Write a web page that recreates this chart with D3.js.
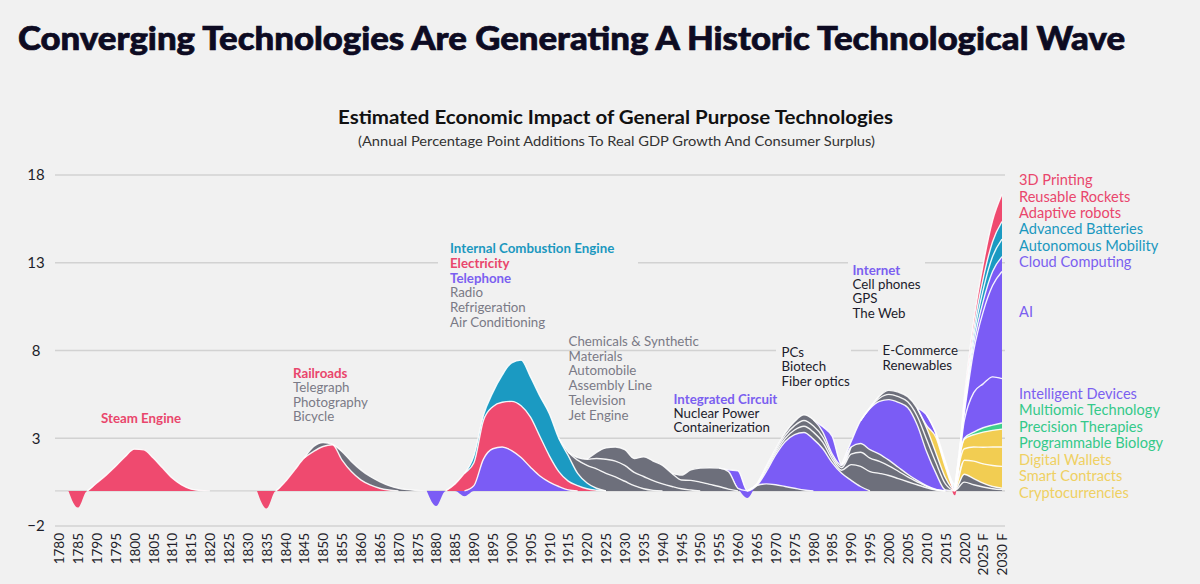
<!DOCTYPE html>
<html><head><meta charset="utf-8">
<script src="https://cdn.jsdelivr.net/npm/d3@7"></script>
<style>
html,body{margin:0;padding:0;background:#f1f1f1;}
svg{display:block;font-family:Lato,"Noto Sans",sans-serif;}
</style></head><body>
<svg id="chart" width="1200" height="584"></svg>
<script>
// ================= DATA =================
const yearStart = 1780, yearEnd = 2030, yearStep = 2.5;
const xTickYears = d3.range(1780, 2031, 5);
const xTickLabels = ["1780","1785","1790","1795","1800","1805","1810","1815","1820","1825","1830","1835","1840","1845","1850","1855","1860","1865","1870","1875","1880","1885","1890","1895","1900","1905","1910","1915","1920","1925","1930","1935","1940","1945","1950","1955","1960","1965","1970","1975","1980","1985","1990","1995","2000","2005","2010","2015","2020","2025 F","2030 F"];
const yTickValues = [-2, 3, 8, 13, 18];

// each series: values every 2.5 years starting at its start year (zero elsewhere)
const steamEngine      = [0, 0, -0.95, 0, 0.45, 0.9, 1.4, 1.95, 2.38, 2.34, 1.87, 1.3, 0.73, 0.34, 0.1, 0.02, 0];            // from 1780
const railroads        = [0, 0, -1.0, 0, 0.53, 1.2, 1.87, 2.25, 2.53, 2.63, 1.77, 1.1, 0.63, 0.34, 0.15, 0.05, 0];             // from 1830
const telegraphEtc     = [0, 0.28, 0.23, 0.02, 0.48, 0.58, 0.57, 0.48, 0.38, 0.25, 0.15, 0.07, 0.02, 0];                       // from 1845
const telephone        = [0, -0.86, 0, 0, -0.3, 0.3, 1.8, 2.4, 2.5, 2.3, 1.9, 1.35, 0.85, 0.5, 0.25, 0.06, 0];                  // from 1877.5
const electricity      = [0, 0.4, 1.0, 1.3, 2.2, 2.4, 2.55, 2.8, 2.95, 2.85, 2.25, 1.5, 0.85, 0.5, 0.3, 0.12, 0.04, 0];         // from 1882.5
const combustionEngine = [0, 0.4, 0.3, 0.8, 1.55, 2.2, 2.6, 2.3, 2.3, 2.4, 1.9, 1.45, 0.7, 0.33, 0.11, 0];                     // from 1887.5
const chemicals        = [0, 0.2, 0.75, 1.0, 1.1, 1.0, 0.8, 0.55, 0.3, 0.12, 0.03, 0];                                         // from 1912.5
const automobile       = [0, 0.15, 0.35, 0.6, 0.8, 0.9, 0.9, 0.75, 0.7, 0.55, 0.4, 0.25, 0.12, 0.05, 0];                       // from 1915
const assemblyTv       = [0, 0.35, 0.65, 0.8, 0.9, 0.8, 1.13, 1.12, 1.05, 0.75, 0.5, 0.55, 0.5, 0.37, 0.25, 0.1, 0];           // from 1920
const jetEngine        = [0, 0.28, 0.6, 0.8, 0.95, 1.05, 1.0, 0.15, 0];                                                        // from 1942.5
const nuclearContainer = [0, 0.3, 0.4, 0.35, 0.25, 0.15, 0.05, 0];                                                             // from 1962.5
const integratedCircuit= [0, 0.1, 1.0, -0.4, 0, 0.7, 1.7, 2.55, 3.05, 3.28, 2.95, 2.4, 1.6, 1.0, 0.6, 0.25, 0];                // from 1955
const pcs              = [0, 0.05, 0.12, 0.13, 0.18, 0.27, 0.35, 0.4, 0.36, 0.2, 0.18, 0.9, 1.15, 1.1, 1.0, 0.88, 0.7, 0.52, 0.35, 0.18, 0.05, 0]; // from 1962.5
const biotech          = [0, 0.03, 0.1, 0.12, 0.17, 0.25, 0.33, 0.35, 0.31, 0.16, 0.14, 0.6, 0.8, 0.77, 0.68, 0.55, 0.42, 0.28, 0.17, 0.08, 0.02, 0];
const fiberOptics      = [0, 0.02, 0.08, 0.1, 0.15, 0.23, 0.32, 0.35, 0.28, 0.14, 0.13, 0.4, 0.5, 0.48, 0.42, 0.32, 0.23, 0.15, 0.08, 0.04, 0.01, 0];
const lateCircuits     = [0, 0.3, 1.0, 0.05, 0];                                                                               // from 1980
const internet         = [0, 0.3, 1.3, 2.35, 3.0, 3.45, 3.7, 3.8, 3.17, 1.94, 0.92, 0.05, 0];                                  // from 1987.5
const eCommerce        = [0, 0.03, 0.18, 0.3, 0.32, 0.33, 0.5, 0.7, 0.6, 0.35, 0.03, 0.5, 0.35, 0.22, 0.12, 0.07];             // from 1992.5
const renewables       = [0, 0.02, 0.12, 0.23, 0.26, 0.28, 0.45, 0.64, 0.55, 0.35, 0.02, 0.45, 0.35, 0.22, 0.13, 0.08];
const cryptocurrencies = [0, 0.15, 0.9, 0.6, 0.05, 0.8, 1.0, 1.1, 1.2, 1.25];                                                  // from 2007.5
const smartContracts   = [0, 0, 0, 0, 0, 0.65, 0.8, 0.95, 1.05, 1.1];
const digitalWallets   = [0, 0, 0, 0, 0, 0.55, 0.7, 0.86, 0.95, 1.02];
const biology          = [0, 0.05, 0.15, 0.25, 0.3, 0.35];                                                                     // from 2017.5
const intelligentDev   = [0, 0.6, 0.2, 0.15, 0.1, 1.0, 2.25, 2.5, 2.75, 2.53];                                                 // from 2007.5
const ai               = [0, 0.4, 2.4, 4.1, 5.2, 6.1];                                                                         // from 2017.5
const cloudComputing   = [0, 0.2, 0.4, 0.6, 0.8, 0.85];                                                                        // from 2017.5
const autonomousMob    = [0, 0.05, 0.08, 0.2, 0.4, 0.65, 0.85, 1.0];                                                           // from 2012.5
const advBatteries     = [0, 0.05, 0.07, 0.2, 0.4, 0.65, 0.85, 1.0];                                                           // from 2012.5
const robotsRockets3d  = [0, 0.05, 0.05, -0.25, 0.3, 0.5, 0.8, 1.2, 1.55];                                                     // from 2010

const seriesStarts = [1780, 1830, 1845, 1877.5, 1882.5, 1887.5, 1912.5, 1915, 1920, 1942.5, 1962.5, 1955, 1962.5, 1962.5, 1962.5, 1980, 1987.5, 1992.5, 1992.5, 2007.5, 2007.5, 2007.5, 2017.5, 2007.5, 2017.5, 2017.5, 2012.5, 2012.5, 2010];
const seriesValues = [steamEngine, railroads, telegraphEtc, telephone, electricity, combustionEngine, chemicals, automobile, assemblyTv, jetEngine, nuclearContainer, integratedCircuit, pcs, biotech, fiberOptics, lateCircuits, internet, eCommerce, renewables, cryptocurrencies, smartContracts, digitalWallets, biology, intelligentDev, ai, cloudComputing, autonomousMob, advBatteries, robotsRockets3d];
const seriesGroups = ["pink","pink","gray","purple","pink","teal","gray","gray","gray","gray","gray","purple","gray","gray","gray","purple","purple","gray","gray","yellow","yellow","yellow","green","purple","purple","purple","teal","teal","pink"];

const legendNames  = ["3D Printing","Reusable Rockets","Adaptive robots","Advanced Batteries","Autonomous Mobility","Cloud Computing","AI","Intelligent Devices","Multiomic Technology","Precision Therapies","Programmable Biology","Digital Wallets","Smart Contracts","Cryptocurrencies"];
const legendGroups = ["pink","pink","pink","teal","teal","purple","purple","purple","green","green","green","yellow","yellow","yellow"];

// ================= STYLE / LAYOUT =================
const fillColor = {pink:"#ef4a6f", gray:"#6d6f7b", purple:"#7b5cf5", teal:"#1b9ac2", yellow:"#f2cd52", green:"#3ecf8c"};
const textColor = {pink:"#e9466c", gray:"#7a7a86", purple:"#7b5ff0", teal:"#1b98bf", yellow:"#efd062", green:"#35c98a", dark:"#1c1c2c"};

const svg = d3.select("#chart");
const W = 1200, H = 584;
svg.append("rect").attr("width", W).attr("height", H).attr("fill", "#f1f1f1");

const x = d3.scaleLinear().domain([yearStart, yearEnd]).range([59, 1002]);
const y = d3.scaleLinear().domain([-2, 18]).range([526, 175]);

// titles
svg.append("text").attr("x", 18).attr("y", 50).attr("font-size", 32).attr("font-weight", 900)
  .attr("fill", "#0d0b22").attr("stroke", "#0d0b22").attr("stroke-width", 0.7)
  .attr("textLength", 1107).attr("lengthAdjust", "spacingAndGlyphs")
  .text("Converging Technologies Are Generating A Historic Technological Wave");
svg.append("text").attr("x", 615.5).attr("y", 124).attr("text-anchor", "middle").attr("font-size", 19)
  .attr("font-weight", 700).attr("fill", "#111").attr("textLength", 555).attr("lengthAdjust", "spacingAndGlyphs")
  .text("Estimated Economic Impact of General Purpose Technologies");
svg.append("text").attr("x", 616.5).attr("y", 146).attr("text-anchor", "middle").attr("font-size", 13.5)
  .attr("fill", "#333").attr("textLength", 517).attr("lengthAdjust", "spacingAndGlyphs")
  .text("(Annual Percentage Point Additions To Real GDP Growth And Consumer Surplus)");

// gridlines
const gridG = svg.append("g");
gridG.selectAll("line").data(yTickValues.concat([0])).join("line")
  .attr("x1", 55).attr("x2", 1005).attr("y1", d => y(d)).attr("y2", d => y(d))
  .attr("stroke", "#d2d2d2").attr("stroke-width", 1.3);

// background patches behind some annotation blocks (they interrupt gridlines)
const patches = [[438, 236, 200, 94], [776, 340, 75, 48], [878, 340, 80, 32], [848, 258, 77, 60]];
svg.append("g").selectAll("rect").data(patches).join("rect")
  .attr("x", d => d[0]).attr("y", d => d[1]).attr("width", d => d[2]).attr("height", d => d[3]).attr("fill", "#f1f1f1");

// stacking
const grid = d3.range(yearStart, yearEnd + 0.001, yearStep);
const layers = seriesValues.map((vals, k) => {
  const full = new Array(grid.length).fill(0);
  const i0 = Math.round((seriesStarts[k] - yearStart) / yearStep);
  vals.forEach((v, j) => { full[i0 + j] = v; });
  return {group: seriesGroups[k], full, pts: []};
});
grid.forEach((yr, j) => {
  let yp = 0, yn = 0;
  layers.forEach(L => {
    const v = L.full[j];
    let d;
    if (v > 0) { d = [yp, yp + v]; yp += v; }
    else if (v < 0) { d = [yn + v, yn]; yn += v; }
    else d = [yp, yp];
    L.pts.push({year: yr, y0: d[0], y1: d[1], v});
  });
});

const areaDef = (d, i, a) => d.v !== 0 || (i > 0 && a[i - 1].v !== 0) || (i < a.length - 1 && a[i + 1].v !== 0);
const lineDef = (d, i, a) => d.v > 0 || (i > 0 && a[i - 1].v > 0) || (i < a.length - 1 && a[i + 1].v > 0);
const area = d3.area().x(d => x(d.year)).y0(d => y(d.y0)).y1(d => y(d.y1)).curve(d3.curveMonotoneX).defined(areaDef);
const topLine = d3.line().x(d => x(d.year)).y(d => y(d.y1)).curve(d3.curveMonotoneX).defined(lineDef);

const areaG = svg.append("g");
areaG.selectAll("path").data(layers).join("path")
  .attr("d", L => area(L.pts)).attr("fill", L => fillColor[L.group]);
const lineG = svg.append("g");
lineG.selectAll("path").data(layers).join("path")
  .attr("d", L => topLine(L.pts)).attr("fill", "none").attr("stroke", "#ffffff")
  .attr("stroke-width", 1.4).attr("stroke-opacity", 0.9);

// axes
const yAxis = d3.axisLeft(y).tickValues(yTickValues).tickSize(0).tickFormat(d3.format("d"));
const yG = svg.append("g").attr("transform", "translate(44,0)").call(yAxis);
yG.select(".domain").remove();
yG.selectAll("text").attr("x", -8).attr("text-anchor", "middle").attr("font-size", 15)
  .attr("font-family", "Lato, sans-serif").attr("fill", "#1e1e2a");

const xAxis = d3.axisBottom(x).tickValues(xTickYears).tickSize(0).tickFormat((d, i) => xTickLabels[i]);
const xG = svg.append("g").attr("transform", "translate(0,526)").call(xAxis);
xG.select(".domain").remove();
xG.selectAll("text").attr("transform", "rotate(-90)").attr("x", -7).attr("y", 0).attr("dy", "0.35em")
  .attr("text-anchor", "end").attr("font-size", 13.5).attr("font-family", "Lato, sans-serif").attr("fill", "#1e1e2a");

// annotations
const blocks = [
  {x: 101, y: 418, step: 14.6, lines: [["Steam Engine", "pink", 1]]},
  {x: 293, y: 373, step: 14.6, lines: [["Railroads", "pink", 1], ["Telegraph", "gray"], ["Photography", "gray"], ["Bicycle", "gray"]]},
  {x: 450, y: 248.3, step: 14.8, lines: [["Internal Combustion Engine", "teal", 1], ["Electricity", "pink", 1], ["Telephone", "purple", 1], ["Radio", "gray"], ["Refrigeration", "gray"], ["Air Conditioning", "gray"]]},
  {x: 568.5, y: 341, step: 14.9, lines: [["Chemicals & Synthetic", "gray"], ["Materials", "gray"], ["Automobile", "gray"], ["Assembly Line", "gray"], ["Television", "gray"], ["Jet Engine", "gray"]]},
  {x: 673.5, y: 399, step: 14.4, lines: [["Integrated Circuit", "purple", 1], ["Nuclear Power", "dark"], ["Containerization", "dark"]]},
  {x: 781.5, y: 352, step: 14.6, lines: [["PCs", "dark"], ["Biotech", "dark"], ["Fiber optics", "dark"]]},
  {x: 852.5, y: 270, step: 14.3, lines: [["Internet", "purple", 1], ["Cell phones", "dark"], ["GPS", "dark"], ["The Web", "dark"]]},
  {x: 882.5, y: 350, step: 15, lines: [["E-Commerce", "dark"], ["Renewables", "dark"]]}
];
const annG = svg.append("g");
blocks.forEach(b => {
  b.lines.forEach((ln, i) => {
    annG.append("text").attr("x", b.x).attr("y", b.y + i * b.step).attr("dy", "0.35em")
      .attr("font-size", 13.3).attr("font-weight", ln[2] ? 700 : 400).attr("fill", textColor[ln[1]]).text(ln[0]);
  });
});

// right-hand legend
const legendY = [180, 196.4, 212.8, 229.2, 245.6, 262.2, 311.7, 393.5, 410, 426.5, 443, 459.5, 476, 492.5];
svg.append("g").selectAll("text").data(legendNames).join("text")
  .attr("x", 1019).attr("y", (d, i) => legendY[i]).attr("dy", "0.35em").attr("font-size", 14.6)
  .attr("fill", (d, i) => textColor[legendGroups[i]]).text(d => d);
</script>
</body></html>
